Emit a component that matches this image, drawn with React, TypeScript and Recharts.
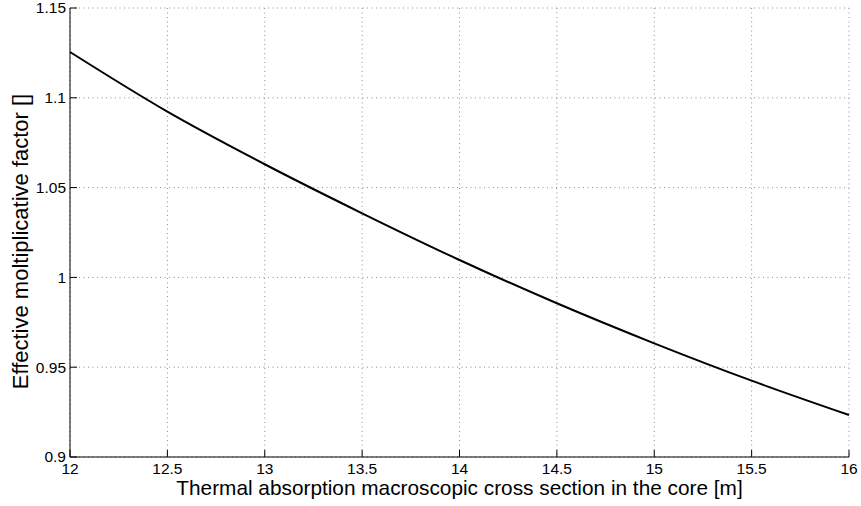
import React from "react";
import { LineChart, Line, XAxis, YAxis, CartesianGrid } from "recharts";

const crossSection = [12, 12.5, 13, 13.5, 14, 14.5, 15, 15.5, 16];
const kEff = [1.1255, 1.0923, 1.063, 1.0357, 1.0097, 0.9856, 0.9633, 0.9425, 0.9234];
const xTicks = [12, 12.5, 13, 13.5, 14, 14.5, 15, 15.5, 16];
const yTicks = [0.9, 0.95, 1, 1.05, 1.1, 1.15];

const data = crossSection.map((x, i) => ({ x, k: kEff[i] }));

const FONT = "'Liberation Sans', Arial, Helvetica, sans-serif";
const TL = 7;
const TICK_FS = 15.5;
const LABEL_FS = 20.8;
const YLABEL_FS = 22;

const BottomTick = (props: any) => {
  const { x, y, payload } = props;
  return (
    <g>
      <line x1={x} y1={y} x2={x} y2={y - TL} stroke="#000" strokeWidth={1} />
      <text x={x} y={y + 16.5} textAnchor="middle" fontFamily={FONT} fontSize={TICK_FS} fill="#000">
        {String(payload.value)}
      </text>
    </g>
  );
};
const TopTick = (props: any) => {
  const { x, y } = props;
  return <line x1={x} y1={y} x2={x} y2={y + TL} stroke="#000" strokeWidth={1} />;
};
const LeftTick = (props: any) => {
  const { x, y, payload } = props;
  return (
    <g>
      <line x1={x} y1={y} x2={x + TL} y2={y} stroke="#000" strokeWidth={1} />
      <text x={x - 4} y={y} dy="0.35em" textAnchor="end" fontFamily={FONT} fontSize={TICK_FS} fill="#000">
        {String(payload.value)}
      </text>
    </g>
  );
};
const RightTick = (props: any) => {
  const { x, y } = props;
  return <line x1={x} y1={y} x2={x - TL} y2={y} stroke="#000" strokeWidth={1} />;
};

const XLabel = (props: any) => {
  const vb = props.viewBox;
  return (
    <text x={vb.x + vb.width / 2} y={495} textAnchor="middle" fontFamily={FONT} fontSize={LABEL_FS} fill="#000">
      Thermal absorption macroscopic cross section in the core [m]
    </text>
  );
};
const YLabel = (props: any) => {
  const vb = props.viewBox;
  const cy = vb.y + vb.height / 2 + 9;
  const cx = 28;
  return (
    <text
      x={cx}
      y={cy}
      transform={`rotate(-90, ${cx}, ${cy})`}
      textAnchor="middle"
      fontFamily={FONT}
      fontSize={YLABEL_FS}
      fill="#000"
    >
      Effective moltiplicative factor []
    </text>
  );
};

export default function App() {
  return (
    <div style={{ position: "absolute", left: 0, top: 0, width: 861, height: 506, background: "#fff" }}>
      <LineChart width={861} height={506} data={data} margin={{ top: 8, right: 12, left: 0, bottom: 0 }}>
        <CartesianGrid xAxisId="bottom" yAxisId="left" stroke="#8f8f8f" strokeDasharray="1 3.5" />
        <XAxis
          xAxisId="bottom"
          dataKey="x"
          type="number"
          domain={[12, 16]}
          ticks={xTicks}
          height={49}
          tickSize={0}
          tickMargin={0}
          tickLine={false}
          axisLine={{ stroke: "#000", strokeWidth: 1 }}
          tick={<BottomTick />}
          interval={0}
          label={<XLabel />}
        />
        <XAxis
          xAxisId="top"
          orientation="top"
          dataKey="x"
          type="number"
          domain={[12, 16]}
          ticks={xTicks}
          height={0}
          tickSize={0}
          tickMargin={0}
          tickLine={false}
          axisLine={{ stroke: "#000", strokeWidth: 1 }}
          tick={<TopTick />}
          interval={0}
        />
        <YAxis
          yAxisId="left"
          type="number"
          domain={[0.9, 1.15]}
          ticks={yTicks}
          width={70}
          tickSize={0}
          tickMargin={0}
          tickLine={false}
          axisLine={{ stroke: "#000", strokeWidth: 1 }}
          tick={<LeftTick />}
          interval={0}
          label={<YLabel />}
        />
        <YAxis
          yAxisId="right"
          orientation="right"
          type="number"
          domain={[0.9, 1.15]}
          ticks={yTicks}
          width={0}
          tickSize={0}
          tickMargin={0}
          tickLine={false}
          axisLine={{ stroke: "#000", strokeWidth: 1 }}
          tick={<RightTick />}
          interval={0}
        />
        <Line
          xAxisId="bottom"
          yAxisId="left"
          dataKey="k"
          type="monotone"
          stroke="#000"
          strokeWidth={2}
          dot={false}
          isAnimationActive={false}
        />
      </LineChart>
    </div>
  );
}
